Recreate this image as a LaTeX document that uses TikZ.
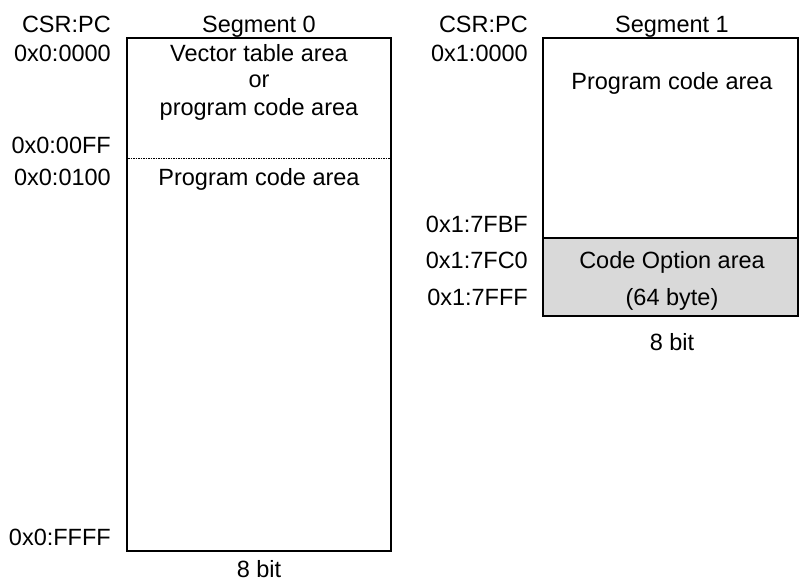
\documentclass[tikz,border=0pt]{standalone}
\usepackage{fontspec}
\setmainfont{Liberation Sans}
\begin{document}
\begin{tikzpicture}[x=1pt,y=-1pt,
  txt/.style={inner sep=0pt,anchor=base,font=\fontsize{23.5}{28}\selectfont},
  lbl/.style={txt,anchor=base east},
  box/.style={draw=black,line width=2pt},
  sep/.style={draw=black,line width=0.8pt,dash pattern=on 1.5pt off 1pt}]
\useasboundingbox (0,0) rectangle (799,583);
% Segment 0
\draw[box] (127,38.5) rectangle (391,551);
\coordinate (s0l) at (128,158.5);
\coordinate (s0r) at (390,158.5);
\draw[sep] (s0l) -- (s0r);
\node[lbl] (c0) at (111,33) {CSR:PC};
\node[txt] (t0) at (259,33) {Segment 0};
\node[lbl] (a0) at (111,62) {0x0:0000};
\node[lbl] (a1) at (111,153) {0x0:00FF};
\node[lbl] (a2) at (111,185) {0x0:0100};
\node[lbl] (a3) at (111,545) {0x0:FFFF};
\node[txt] (v1) at (259,62) {Vector table area};
\node[txt] (v2) at (259,88) {or};
\node[txt] (v3) at (259,115) {program code area};
\node[txt] (p0) at (259,185) {Program code area};
\node[txt] (b0) at (259,577.5) {8 bit};
% Segment 1
\draw[box,fill=black!15] (543,237.5) rectangle (797.5,316);
\draw[box] (543,38.5) rectangle (797.5,316);
\node[lbl] (c1) at (528,33) {CSR:PC};
\node[txt] (t1) at (672,33) {Segment 1};
\node[lbl] (d0) at (528,62) {0x1:0000};
\node[lbl] (d1) at (528,232) {0x1:7FBF};
\node[lbl] (d2) at (528,268) {0x1:7FC0};
\node[lbl] (d3) at (528,305) {0x1:7FFF};
\node[txt] (p1) at (672,90) {Program code area};
\node[txt] (o1) at (672,268) {Code Option area};
\node[txt] (o2) at (672,305) {(64 byte)};
\node[txt] (b1) at (672,350) {8 bit};
\end{tikzpicture}
\end{document}
